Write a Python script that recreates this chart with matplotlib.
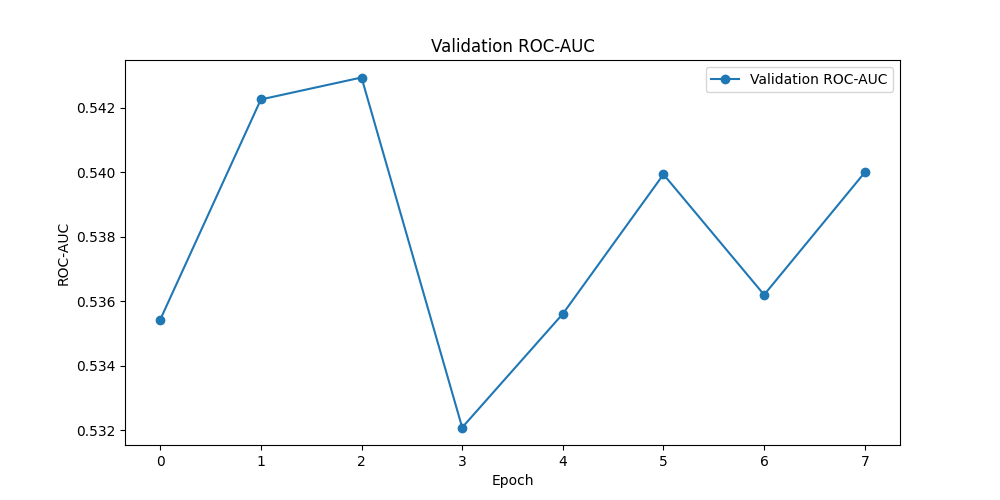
import matplotlib
matplotlib.use("Agg")
import matplotlib.pyplot as plt

# значения
epochs = [0, 1, 2, 3, 4, 5, 6, 7]
roc_auc = [0.53543, 0.54225, 0.54293, 0.53209, 0.53561, 0.53993, 0.53620, 0.53999]

plt.figure(figsize=(10, 5))
plt.plot(epochs, roc_auc, marker='o', label='Validation ROC-AUC')
plt.title('Validation ROC-AUC')
plt.xlabel('Epoch')
plt.ylabel('ROC-AUC')
plt.legend()

plt.savefig('out.png', dpi=100)
